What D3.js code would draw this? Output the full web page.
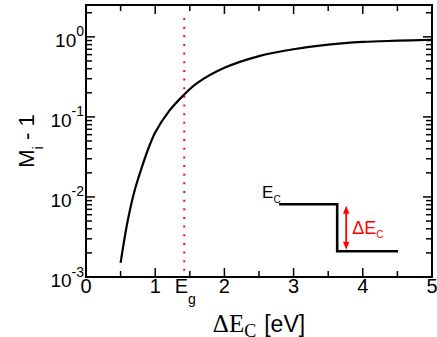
<!DOCTYPE html>
<html>
<head>
<meta charset="utf-8">
<script src="https://cdn.jsdelivr.net/npm/d3@7"></script>
<style>
body { margin: 0; background: #fff; }
text { font-family: "Liberation Sans", Arial, sans-serif; white-space: pre; }
</style>
</head>
<body>
<div class="chart"></div>
<script>
// M_i - 1 against the conduction band offset
var deltaEc = [0.5, 0.6, 0.7, 0.8, 0.9, 1.0, 1.2, 1.4, 1.6, 2.0, 2.5, 3.0, 3.5, 4.0, 4.5, 5.0];
var mi1 = [0.0015, 0.0049, 0.0118, 0.0225, 0.040, 0.064, 0.118, 0.183, 0.262, 0.41, 0.575, 0.70, 0.80, 0.865, 0.895, 0.92];
var eg = 1.42;
var xTicks = [0, 1, 2, 3, 4, 5];
var xMinor = [0.5, 1.5, 2.5, 3.5, 4.5];
var yDecades = [-3, -2, -1, 0];
// inset band step, data units
var stepX = [2.79, 3.63, 4.51];
var stepY = [0.0081, 0.0021];
var arrowX = 3.76;

var W = 437, H = 337;
// note: "top" is taken by window.top, so prefix these
var pL = 86, pR = 432, pT = 5, pB = 277;

var svg = d3.select(".chart").append("svg")
    .attr("width", W).attr("height", H);

var x = d3.scaleLinear().domain([0, 5]).range([pL, pR]);
var y = d3.scaleLog().domain([1e-3, 2.5]).range([pB, pT]);

// ticks, inward on all four sides
var tk = svg.append("g").attr("stroke", "#000").attr("stroke-width", 1.5);
function xTick(v, len) {
    tk.append("line").attr("x1", x(v)).attr("x2", x(v)).attr("y1", pB).attr("y2", pB - len);
    tk.append("line").attr("x1", x(v)).attr("x2", x(v)).attr("y1", pT).attr("y2", pT + len);
}
xTicks.forEach(function(v) { xTick(v, 9); });
xMinor.forEach(function(v) { xTick(v, 6); });

y.ticks().forEach(function(v) {
    var major = Math.abs(Math.log10(v) - Math.round(Math.log10(v))) < 1e-9;
    var len = major ? 9 : 6;
    tk.append("line").attr("x1", pL).attr("x2", pL + len).attr("y1", y(v)).attr("y2", y(v));
    tk.append("line").attr("x1", pR).attr("x2", pR - len).attr("y1", y(v)).attr("y2", y(v));
});

// Eg marker
svg.append("line")
    .attr("x1", x(eg)).attr("x2", x(eg))
    .attr("y1", pT + 13).attr("y2", pB)
    .attr("stroke", "#f01010").attr("stroke-width", 2)
    .attr("stroke-dasharray", "2,6.65");

// curve
var line = d3.line()
    .x(function(d) { return x(d[0]); })
    .y(function(d) { return y(d[1]); })
    .curve(d3.curveCatmullRom.alpha(0.5));
svg.append("path")
    .datum(d3.zip(deltaEc, mi1))
    .attr("d", line)
    .attr("fill", "none").attr("stroke", "#000").attr("stroke-width", 2.2);

// frame
svg.append("rect")
    .attr("x", pL).attr("y", pT)
    .attr("width", pR - pL).attr("height", pB - pT)
    .attr("fill", "none").attr("stroke", "#000").attr("stroke-width", 2);

// tick labels
xTicks.forEach(function(v) {
    svg.append("text").attr("x", x(v)).attr("y", 293)
        .attr("text-anchor", "middle").attr("font-size", 20).text(v);
});
var egLab = svg.append("text").attr("x", x(eg) + 1).attr("y", 293)
    .attr("text-anchor", "middle").attr("font-size", 20);
egLab.append("tspan").text("E");
egLab.append("tspan").attr("font-size", 14).attr("dy", 11).text("g");

yDecades.forEach(function(d) {
    var t = svg.append("text").attr("x", 84).attr("y", y(Math.pow(10, d)) + 10)
        .attr("text-anchor", "end").attr("font-size", 19);
    t.append("tspan").text("10");
    t.append("tspan").attr("font-size", 14).attr("dy", -10.5).text(d === 0 ? "0" : "-" + (-d));
});

// axis titles
var xt = svg.append("text").attr("x", (pL + pR) / 2).attr("y", 331.5)
    .attr("text-anchor", "middle");
xt.append("tspan").attr("font-family", "Liberation Serif, Times New Roman, serif")
    .attr("font-size", 25).text("ΔE");
xt.append("tspan").attr("font-family", "Liberation Serif, Times New Roman, serif")
    .attr("font-size", 18).attr("dy", 5.5).text("C");
xt.append("tspan").attr("font-size", 23).attr("dy", -5.5).attr("dx", 8).text("[eV]");

var yt = svg.append("text")
    .attr("transform", "translate(33.5," + ((pT + pB) / 2) + ") rotate(-90)")
    .attr("text-anchor", "middle").attr("font-size", 22);
yt.append("tspan").text("M");
yt.append("tspan").attr("font-size", 15).attr("dy", 9).text("i");
yt.append("tspan").attr("dy", -9).text(" - 1");

// inset: band step with offset arrow
var sx = stepX.map(x), sy = stepY.map(y);
svg.append("path")
    .attr("d", "M" + sx[0] + "," + sy[0] + "H" + sx[1] + "V" + sy[1] + "H" + sx[2])
    .attr("fill", "none").attr("stroke", "#000").attr("stroke-width", 2.6);

var ax = x(arrowX), ay0 = sy[0] + 1.5, ay1 = sy[1] - 1.5;
svg.append("line").attr("x1", ax).attr("x2", ax).attr("y1", ay0 + 6).attr("y2", ay1 - 6)
    .attr("stroke", "#f00").attr("stroke-width", 1.8);
svg.append("path").attr("d", "M" + ax + "," + ay0 + "l-3.2,8h6.4z").attr("fill", "#f00");
svg.append("path").attr("d", "M" + ax + "," + ay1 + "l-3.2,-8h6.4z").attr("fill", "#f00");

var ec = svg.append("text").attr("x", sx[0] - 17).attr("y", sy[0] - 6).attr("font-size", 17);
ec.append("tspan").text("E");
ec.append("tspan").attr("font-size", 10).attr("dy", 5).text("C");

var dl = svg.append("text").attr("x", ax + 6).attr("y", (sy[0] + sy[1]) / 2 + 6.5)
    .attr("font-size", 18).attr("fill", "#f00");
dl.append("tspan").text("ΔE");
dl.append("tspan").attr("font-size", 10).attr("dy", 4).text("C");
</script>
</body>
</html>
